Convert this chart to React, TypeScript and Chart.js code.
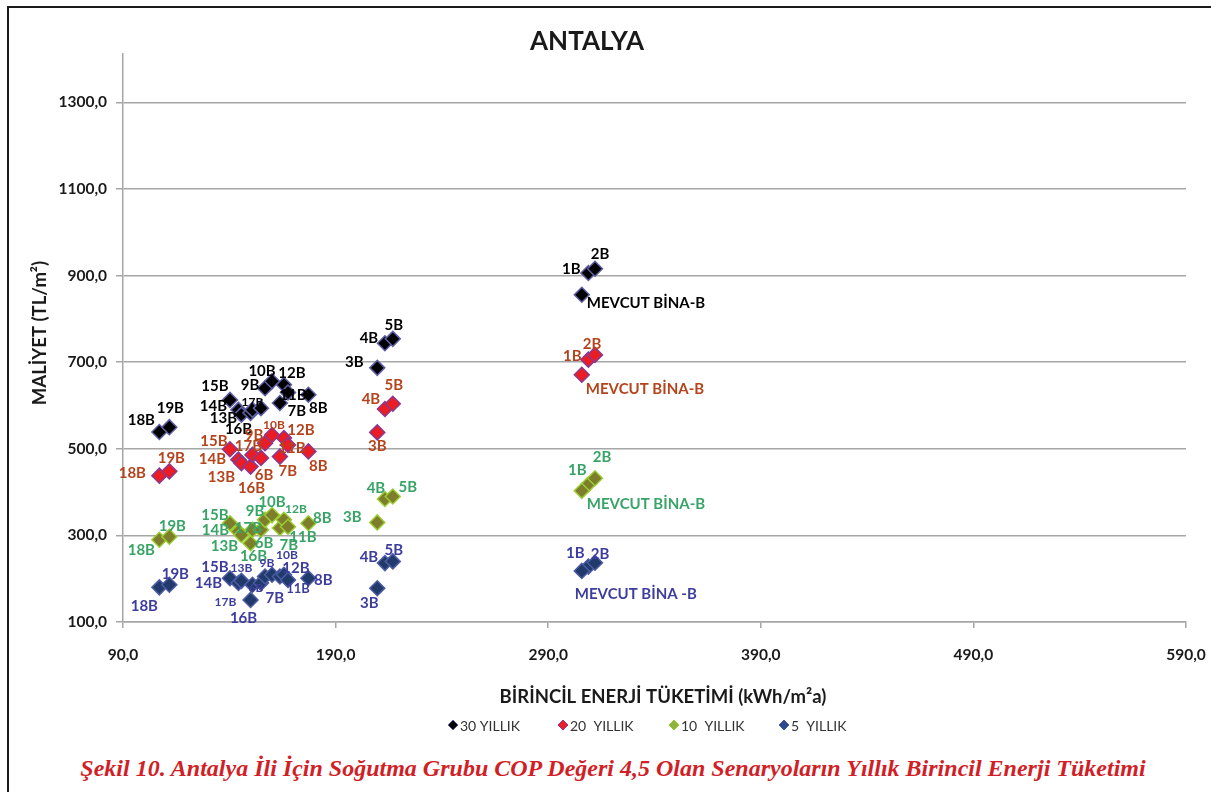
import React, { useEffect, useRef } from 'react';
import { Chart, registerables } from 'chart.js';

Chart.register(...registerables);

// ---------- DATA ----------
const SCENARIOS = ['18B', '19B', '15B', '14B', '13B', '16B', '17B', '6B', '9B', '10B', '7B', '12B', '11B', '8B', '3B', '4B', '5B', '1B', '2B', 'MEVCUT BİNA-B'];
const ENERGY = [107.1, 111.8, 140.3, 144.3, 145.7, 150.0, 150.9, 154.9, 156.8, 160.1, 163.8, 165.7, 167.6, 177.2, 209.6, 213.2, 216.9, 308.9, 312.0, 305.8];
const COST_30 = [539, 550, 613, 590, 579, 583, 590, 594, 640, 656, 606, 648, 630, 625, 687, 744, 754, 906, 916, 856];
const COST_20 = [438, 448, 499, 475, 467, 459, 486, 479, 513, 532, 482, 525, 509, 494, 538, 592, 604, 706, 717, 671];
const COST_10 = [290, 297, 328, 309, 301, 282, 313, 313, 336, 347, 317, 336, 320, 328, 330, 384, 390, 418, 432, 403];
const COST_5 = [180, 186, 201, 190, 195, 151, 186, 190, 205, 209, 205, 209, 197, 201, 178, 236, 240, 228, 237, 218];
const SERIES_NAMES = ['30 YILLIK', '20  YILLIK', '10  YILLIK', '5  YILLIK'];
const X_TICKS = [90, 190, 290, 390, 490, 590];
const Y_TICKS = [100, 300, 500, 700, 900, 1100, 1300];
const LABEL_OVERRIDES_5: Record<string, string> = { 'MEVCUT BİNA-B': 'MEVCUT BİNA -B' };
const TITLE = 'ANTALYA';
const X_TITLE = 'BİRİNCİL ENERJİ TÜKETİMİ (kWh/m²a)';
const Y_TITLE = 'MALİYET (TL/m²)';
const CAPTION = 'Şekil 10. Antalya İli İçin Soğutma Grubu COP Değeri 4,5 Olan Senaryoların Yıllık Birincil Enerji Tüketimi';

// ---------- STYLE ----------
const FONT = 'Lato, "Open Sans", sans-serif';
const GRID = '#a6a6a6';
type Pos = [number, number, number?, string?];

const POS_30: Record<string, Pos> = {
  '18B': [-18, -12], '19B': [1, -19], '15B': [-15, -14], '14B': [-25, -4], '13B': [-18, 4],
  '16B': [-12, 16], '17B': [0, -8, 12], '9B': [-15, -3], '10B': [-10, -10], '12B': [8, -12],
  '11B': [5, 3], '7B': [17, 8], '8B': [10, 13], '3B': [-23, -6], '4B': [-16, -5], '5B': [1, -14],
  '1B': [-17, -4], '2B': [5, -15], 'MEVCUT BİNA-B': [5, 8, 15, 'left'],
};
const POS_20: Record<string, Pos> = {
  '18B': [-27, -3], '19B': [2, -13], '15B': [-16, -8], '14B': [-26, 0], '13B': [-20, 14],
  '16B': [1, 22], '17B': [-4, -9], '6B': [3, 17], '9B': [-11, -8], '10B': [2, -10, 12],
  '12B': [17, -8], '11B': [4, 3], '7B': [8, 15], '8B': [10, 15], '3B': [0, 14], '4B': [-14, -10],
  '5B': [1, -19], '1B': [-16, -3], '2B': [-3, -11], 'MEVCUT BİNA-B': [4, 14, 15, 'left'],
};
const POS_10: Record<string, Pos> = {
  '18B': [-18, 10], '19B': [3, -11], '15B': [-15, -8], '14B': [-23, -1], '13B': [-17, 11],
  '16B': [3, 13], '17B': [-4, -2], '6B': [3, 13], '9B': [-10, -9], '10B': [0, -13],
  '12B': [12, -11, 12], '11B': [15, 10], '7B': [9, 17], '8B': [14, -5], '3B': [-25, -5],
  '4B': [-9, -11], '5B': [15, -9], '1B': [-11, -14], '2B': [7, -21], 'MEVCUT BİNA-B': [5, 13, 15, 'left'],
};
const POS_5: Record<string, Pos> = {
  '18B': [-15, 19], '19B': [6, -11], '15B': [-15, -11], '14B': [-30, 0], '13B': [0, -13, 12],
  '16B': [-7, 18], '17B': [-27, 17, 12], '6B': [-5, 5, 12], '9B': [2, -13, 12], '10B': [15, -20, 12],
  '12B': [12, -7], '11B': [10, 9, 13], '7B': [-5, 22], '8B': [15, 2], '3B': [-8, 15], '4B': [-16, -6],
  '5B': [1, -11], '1B': [-13, -13], '2B': [5, -9], 'MEVCUT BİNA-B': [-7, 23, 15, 'left'],
};

const SERIES = [
  { values: COST_30, fill: '#000000', border: '#5e5ea6', label: '#000000', legend: '#000000', pos: POS_30 },
  { values: COST_20, fill: '#ec1c24', border: '#8a3a8e', label: '#b5441d', legend: '#e8202a', pos: POS_20 },
  { values: COST_10, fill: '#7d7d2c', border: '#9acd32', label: '#38a467', legend: '#8db33a', pos: POS_10 },
  { values: COST_5, fill: '#1f3a6b', border: '#4d5ca3', label: '#3d3d9e', legend: '#2e4b8f', pos: POS_5 },
];

const fmt = (v: number | string) => Number(v).toFixed(1).replace('.', ',');

const labelsPlugin = {
  id: 'pointLabels',
  afterDatasetsDraw(chart: any) {
    const ctx = chart.ctx;
    ctx.save();
    ctx.textBaseline = 'middle';
    chart.data.datasets.forEach((_ds: any, di: number) => {
      const meta = chart.getDatasetMeta(di);
      const s = SERIES[di];
      meta.data.forEach((pt: any, i: number) => {
        const name = SCENARIOS[i];
        const p = s.pos[name];
        if (!p) return;
        const text = di === 3 && LABEL_OVERRIDES_5[name] ? LABEL_OVERRIDES_5[name] : name;
        ctx.font = `bold ${p[2] || 15}px ${FONT}`;
        ctx.fillStyle = s.label;
        ctx.textAlign = (p[3] as CanvasTextAlign) || 'center';
        ctx.fillText(text, pt.x + p[0], pt.y + p[1]);
      });
    });
    ctx.restore();
  },
};

const decorPlugin = {
  id: 'decor',
  afterDraw(chart: any) {
    const ctx = chart.ctx;
    ctx.save();
    ctx.fillStyle = '#1a1a1a';
    ctx.textAlign = 'center';
    ctx.textBaseline = 'middle';
    ctx.font = `bold 26px ${FONT}`;
    ctx.fillText(TITLE, 579, 34);
    ctx.font = `bold 18.5px ${FONT}`;
    ctx.fillText(X_TITLE, 655, 689);
    ctx.save();
    ctx.translate(32, 325);
    ctx.rotate(-Math.PI / 2);
    ctx.fillText(Y_TITLE, 0, 0);
    ctx.restore();

    // legend
    const lx = [445, 555, 666, 776];
    const ly = 717;
    ctx.textAlign = 'left';
    ctx.font = `14px ${FONT}`;
    SERIES.forEach((s, k) => {
      const x = lx[k];
      ctx.beginPath();
      ctx.moveTo(x, ly - 5);
      ctx.lineTo(x + 5, ly);
      ctx.lineTo(x, ly + 5);
      ctx.lineTo(x - 5, ly);
      ctx.closePath();
      ctx.fillStyle = s.legend;
      ctx.fill();
      ctx.lineWidth = 1;
      ctx.strokeStyle = s.border;
      ctx.stroke();
      ctx.fillStyle = '#333333';
      ctx.fillText(SERIES_NAMES[k], x + 7, ly + 1);
    });
    ctx.restore();
  },
};

export default function App() {
  const ref = useRef<HTMLCanvasElement | null>(null);

  useEffect(() => {
    if (!ref.current) return;
    const chart = new Chart(ref.current, {
      type: 'scatter',
      data: {
        datasets: SERIES.map((s, k) => ({
          label: SERIES_NAMES[k],
          data: ENERGY.map((x, i) => ({ x, y: s.values[i] })),
          pointStyle: 'rectRot',
          pointRadius: 7.5,
          pointHoverRadius: 7.5,
          backgroundColor: s.fill,
          borderColor: s.border,
          borderWidth: 1.5,
        })),
      },
      options: {
        responsive: false,
        animation: false,
        devicePixelRatio: 1,
        events: [],
        layout: { padding: { left: 0, right: 25, top: 46, bottom: 0 } },
        plugins: {
          legend: { display: false },
          title: { display: false },
          tooltip: { enabled: false },
        },
        scales: {
          x: {
            type: 'linear',
            min: 90,
            max: 590,
            afterBuildTicks: (s: any) => { s.ticks = X_TICKS.map((v) => ({ value: v })); },
            afterFit: (s: any) => { s.height = 126; s.paddingLeft = 0; s.paddingRight = 0; },
            grid: { drawOnChartArea: false, drawTicks: true, tickLength: 6, color: GRID, lineWidth: 1.5 },
            border: { display: true, color: GRID, width: 1.5 },
            ticks: {
              padding: 18,
              autoSkip: false,
              maxRotation: 0,
              color: '#1a1a1a',
              font: { family: FONT, weight: 'bold', size: 15.5 },
              callback: (v: any) => fmt(v),
            },
          },
          y: {
            type: 'linear',
            min: 100,
            max: 1412,
            afterBuildTicks: (s: any) => { s.ticks = Y_TICKS.map((v) => ({ value: v })); },
            afterFit: (s: any) => { s.width = 115; s.paddingTop = 0; s.paddingBottom = 0; },
            grid: { color: GRID, lineWidth: 1.5, tickLength: 7 },
            border: { display: true, color: GRID, width: 1.5 },
            ticks: {
              padding: 9,
              color: '#1a1a1a',
              font: { family: FONT, weight: 'bold', size: 15.5 },
              callback: (v: any) => fmt(v),
            },
          },
        },
      } as any,
      plugins: [labelsPlugin, decorPlugin],
    });
    return () => chart.destroy();
  }, []);

  return (
    <div style={{ position: 'fixed', left: 0, top: 0, width: 1211, height: 792, overflow: 'hidden', background: '#fff' }}>
      <div style={{ position: 'absolute', left: 7, top: 6, width: 1400, height: 1000, borderLeft: '2px solid #1a1a1a', borderTop: '2px solid #1a1a1a' }} />
      <canvas ref={ref} width={1203} height={740} style={{ position: 'absolute', left: 8, top: 8, width: 1203, height: 740 }} />
      <div
        style={{
          position: 'absolute',
          left: 613,
          top: 754,
          transform: 'translateX(-50%)',
          whiteSpace: 'nowrap',
          fontFamily: '"Liberation Serif", "DejaVu Serif", serif',
          fontStyle: 'italic',
          fontWeight: 'bold',
          fontSize: 24,
          color: '#d21f27',
          lineHeight: '28px',
        }}
      >
        {CAPTION}
      </div>
    </div>
  );
}
